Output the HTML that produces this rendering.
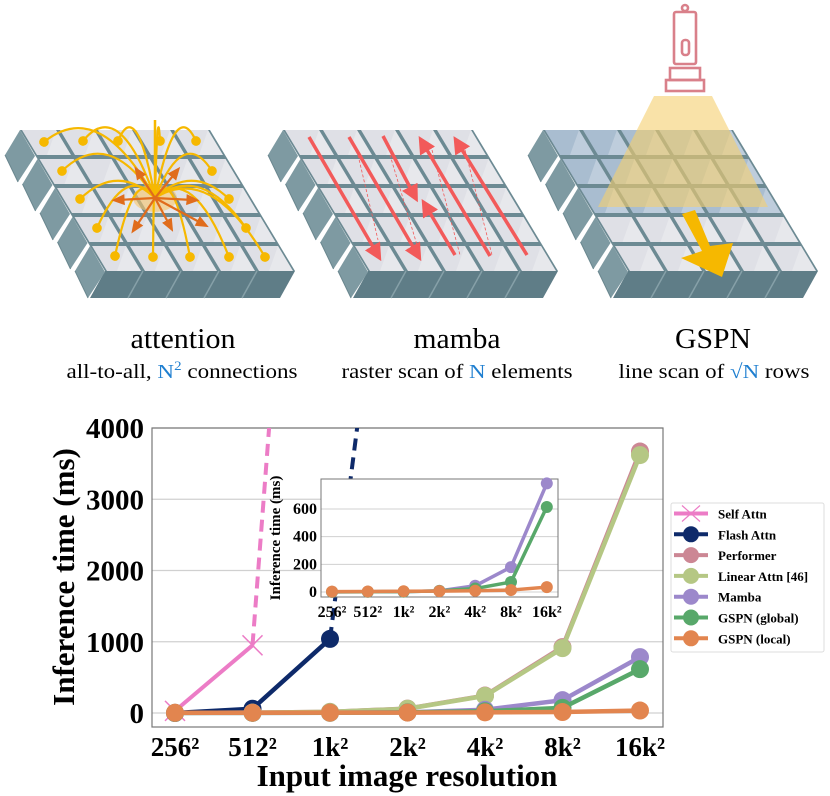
<!DOCTYPE html>
<html><head><meta charset="utf-8">
<style>
html,body{margin:0;padding:0;background:#fff;}
svg{display:block;font-family:"Liberation Serif",serif;}
</style></head>
<body>
<svg id="fig" width="830" height="796" viewBox="0 0 830 796" xmlns="http://www.w3.org/2000/svg">
<defs>
<marker id="ay" markerWidth="6" markerHeight="6" refX="3" refY="3" orient="auto"><circle cx="3" cy="3" r="2.2" fill="#f6b800"/></marker>
<marker id="ao" markerWidth="6" markerHeight="6" refX="3" refY="3" orient="auto"><path d="M0,0.5 L6,3 L0,5.5 z" fill="#e06c1c"/></marker>
<marker id="ar" markerWidth="5" markerHeight="5" refX="2" refY="2.5" orient="auto"><path d="M0,0 L5,2.5 L0,5 z" fill="#f25a5a"/></marker>
</defs>
<g id="grids"></g>
<g id="overlays"></g>

<g text-anchor="middle">
<text x="183" y="348" font-size="28" textLength="105" lengthAdjust="spacingAndGlyphs">attention</text>
<text x="182" y="378" font-size="20" textLength="231" lengthAdjust="spacingAndGlyphs">all-to-all, <tspan fill="#1f7fd0">N<tspan font-size="13" dy="-8">2</tspan></tspan><tspan dy="8"> connections</tspan></text>
<text x="457" y="348" font-size="28" textLength="87" lengthAdjust="spacingAndGlyphs">mamba</text>
<text x="457" y="378" font-size="20" textLength="231" lengthAdjust="spacingAndGlyphs">raster scan of <tspan fill="#1f7fd0">N</tspan> elements</text>
<text x="713" y="348" font-size="28" textLength="76" lengthAdjust="spacingAndGlyphs">GSPN</text>
<text x="714" y="378" font-size="20" textLength="191" lengthAdjust="spacingAndGlyphs">line scan of <tspan fill="#1f7fd0">√N</tspan> rows</text>
</g>

<g id="chart"></g>
</svg>
<script>
// ---- chart data ----
const categories = ["256²","512²","1k²","2k²","4k²","8k²","16k²"];
const yTicks = [0,1000,2000,3000,4000];
const insetYTicks = [0,200,400,600];
const seriesNames = ["Self Attn","Flash Attn","Performer","Linear Attn [46]","Mamba","GSPN (global)","GSPN (local)"];
const selfAttn = [30, 950];
const selfAttnProjected = [950, 15200];
const flashAttn = [0, 60, 1040];
const flashAttnProjected = [1040, 9500];
const performer = [2, 5, 15, 62, 245, 925, 3670];
const linearAttn = [2, 5, 15, 60, 240, 910, 3620];
const mamba = [1, 2, 3, 8, 45, 180, 785];
const gspnGlobal = [1, 2, 3, 8, 25, 72, 615];
const gspnLocal = [3, 4, 5, 6, 9, 14, 35];

const NS="http://www.w3.org/2000/svg";
function mk(tag, attrs, parent){const e=document.createElementNS(NS,tag);for(const k in attrs)e.setAttribute(k,attrs[k]);if(parent)parent.appendChild(e);return e;}

// ---- illustrations ----
const G=document.getElementById('grids');
function drawGrid(ox, oy, name, tintRows){
  const g=mk('g',{},G);
  
  
  const W=38, RH=29, SH=17.5, TH=25, SK=15;
  const bx=ox+4*SH+SK, bry=oy+4*RH+TH, brx=bx+5*W;
  // slab base (gap colour)
  mk('polygon',{points:`${ox},${oy} ${ox+5*W},${oy} ${brx},${bry} ${bx},${bry}`,fill:'#6c8a93'},g);
  // front face (slanted)
  mk('polygon',{points:`${bx},${bry} ${brx},${bry} ${brx-15},${bry+27} ${bx-15},${bry+27}`,fill:'#5f7d87'},g);
  for(let c=1;c<5;c++){const x=bx+c*W;mk('line',{x1:x,y1:bry,x2:x-15,y2:bry+27,stroke:'#86a0a8','stroke-width':1.5},g);}
  for(let r=0;r<5;r++){
    const x0=ox+r*SH, y0=oy+r*RH;
    mk('polygon',{points:`${x0},${y0} ${x0-15},${y0+25} ${x0-2},${y0+52} ${x0+15},${y0+26}`,fill:'#7e9aa2'},g);
    mk('line',{x1:x0-15,y1:y0+25,x2:x0-2,y2:y0+52,stroke:'#6a878f','stroke-width':1},g);
    for(let c=0;c<5;c++){
      const x=x0+c*W+2, y=y0;
      const fill=(tintRows&&r<3)?'#a9bdd0':'#dfe0e6';
      mk('polygon',{points:`${x},${y} ${x+W-4},${y} ${x+W-4+SK},${y+TH} ${x+SK},${y+TH}`,fill:fill},g);
      mk('polygon',{points:`${x+W-4},${y} ${x+W-4+SK},${y+TH} ${x+SK+10},${y+TH}`,fill:'#ffffff','fill-opacity':0.25},g);
    }
  }
}
drawGrid(20,130,'attention-grid',false);
drawGrid(283,130,'mamba-grid',false);
drawGrid(543,130,'gspn-grid',true);

const O=document.getElementById('overlays');
// attention arcs
const cx=155, cy=198;
mk('ellipse',{cx:cx,cy:cy,rx:22,ry:14,fill:'#f8c76a','fill-opacity':0.6},O);
const targets=[[44,142],[83,141],[118,141],[160,141],[196,141],[62,171],[212,171],[80,199],[229,199],[97,228],[246,228],[115,256],[153,257],[190,257],[229,257],[265,257]];
targets.forEach((t,i)=>{
  const mx=(cx+t[0])/2, my=Math.min(cy,t[1])-45+(t[1]>cy?10:0);
  const p=mk('path',{d:`M${cx},${cy} Q${mx},${my} ${t[0]},${t[1]}`,fill:'none',stroke:'#f6b800','stroke-width':2.2,'marker-end':'url(#ay)'},O);
  
  
});
mk('line',{x1:cx,y1:cy,x2:cx,y2:120,stroke:'#f6b800','stroke-width':2.5},O);
[[138,172],[176,172],[118,200],[193,200],[135,228],[170,226],[203,224]].forEach(t=>{
  const l=mk('line',{x1:cx,y1:cy,x2:t[0],y2:t[1],stroke:'#e06c1c','stroke-width':2.2,'marker-end':'url(#ao)'},O);
  
  
});
// mamba scan arrows
[[358,155,378,240],[390,155,417,245],[432,150,460,255],[465,150,492,255]].forEach(d=>{
  mk('line',{x1:d[0],y1:d[1],x2:d[2],y2:d[3],stroke:'#f25a5a','stroke-width':0.8,'stroke-dasharray':'3,2'},O);
});
[[309,137,376,252],[349,137,416,252],[383,136,413,193],[455,255,427,208],[490,256,424,145],[527,255,459,145]].forEach(d=>{
  const l=mk('line',{x1:d[0],y1:d[1],x2:d[2],y2:d[3],stroke:'#f25a5a','stroke-width':3.5,'marker-end':'url(#ar)'},O);
  
  
});
// GSPN flashlight & beam
const fl=mk('g',{fill:'none',stroke:'#d9808a','stroke-width':2.6},O);


mk('rect',{x:674,y:12,width:22,height:52,rx:2},fl);
mk('circle',{cx:685,cy:8,r:3},fl);
mk('rect',{x:682,y:40,width:7,height:15,rx:3},fl);
mk('rect',{x:670,y:68,width:30,height:12},fl);
mk('rect',{x:666,y:80,width:38,height:11},fl);
const beam=mk('polygon',{points:'654,96 712,96 768,207 598,207',fill:'#f5cf6e','fill-opacity':0.6},O);


const arw=mk('polygon',{points:'682,214 695,210 710,246 733,243 722,277 681,258 702,251',fill:'#f6b800'},O);



// ---- main chart ----
const C=document.getElementById('chart');
const L=152,R=663,T=428,B=727;
const xS=i=>175+i*77.5;
const yS=v=>713-v*0.07125;
mk('rect',{x:L,y:T,width:R-L,height:B-T,fill:'#fff'},C);
const clip=mk('clipPath',{id:'mainclip'},C);
mk('rect',{x:L,y:T,width:R-L,height:B-T},clip);
yTicks.forEach(v=>{
  const gl=mk('line',{x1:L,x2:R,y1:yS(v),y2:yS(v),stroke:'#d0d0d0','stroke-width':1.2},C);
  
  
  const t=mk('text',{x:L-8,y:yS(v)+10,'text-anchor':'end','font-size':29,'font-weight':'bold'},C);
  t.textContent=v;
  
  
});
categories.forEach((c,i)=>{
  const t=mk('text',{x:xS(i),y:756,'text-anchor':'middle','font-size':27,'font-weight':'bold'},C);
  t.textContent=c;
  
  
});
mk('rect',{x:L,y:T,width:R-L,height:B-T,fill:'none',stroke:'#777','stroke-width':1.2},C);
const xl=mk('text',{x:407,y:786,'text-anchor':'middle','font-size':31,'font-weight':'bold'},C);
xl.textContent='Input image resolution';


const yl=mk('text',{x:0,y:0,'text-anchor':'middle','font-size':31,'font-weight':'bold',transform:'translate(74,577) rotate(-90)'},C);
yl.textContent='Inference time (ms)';



const colors=['#ec7cc6','#0e2a6a','#cc8794','#b5c784','#9c88cb','#58a86a','#e2854f'];
const plot=mk('g',{'clip-path':'url(#mainclip)'},C);
function series(g,vals,color,xf,yf,lw,r,name,marker){
  const s=mk('g',{},g);
  
  
  mk('polyline',{points:vals.map((v,i)=>xf(i)+','+yf(v)).join(' '),fill:'none',stroke:color,'stroke-width':lw,'stroke-linejoin':'round'},s);
  vals.forEach((v,i)=>{
    if(marker==='x'){
      mk('path',{d:`M${xf(i)-r},${yf(v)-r}L${xf(i)+r},${yf(v)+r}M${xf(i)-r},${yf(v)+r}L${xf(i)+r},${yf(v)-r}`,stroke:color,'stroke-width':1.5},s);
    } else {
      const m=mk('circle',{cx:xf(i),cy:yf(v),r:r,fill:color},s);
      
      
    }
  });
}
function dashed(g,vals,start,color,name){
  const l=mk('line',{x1:xS(start),y1:yS(vals[0]),x2:xS(start+1),y2:yS(vals[1]),stroke:color,'stroke-width':4,'stroke-dasharray':'12,7'},g);
  
  
}
dashed(plot,selfAttnProjected,1,colors[0],'self-attn-projection');
dashed(plot,flashAttnProjected,2,colors[1],'flash-attn-projection');
series(plot,selfAttn,colors[0],xS,yS,4,10,'self-attn-series','x');
series(plot,flashAttn,colors[1],xS,yS,4.5,9,'flash-attn-series');
series(plot,performer,colors[2],xS,yS,4.5,9,'performer-series');
series(plot,linearAttn,colors[3],xS,yS,4.5,9,'linear-attn-series');
series(plot,mamba,colors[4],xS,yS,4.5,9,'mamba-series');
series(plot,gspnGlobal,colors[5],xS,yS,4.5,9,'gspn-global-series');
series(plot,gspnLocal,colors[6],xS,yS,4.5,9,'gspn-local-series');

// ---- inset ----
const I=mk('g',{},C);


const iL=321,iR=558,iT=479,iB=597;
const xi=i=>332+i*35.8;
const yi=v=>592-v*0.1383;
mk('rect',{x:iL,y:iT,width:iR-iL,height:iB-iT,fill:'#fff'},I);
insetYTicks.forEach(v=>{
  mk('line',{x1:iL,x2:iR,y1:yi(v),y2:yi(v),stroke:'#d0d0d0','stroke-width':1},I);
  const t=mk('text',{x:iL-4,y:yi(v)+5,'text-anchor':'end','font-size':16,'font-weight':'bold'},I);
  t.textContent=v;
  
  
});
categories.forEach((c,i)=>{
  const t=mk('text',{x:xi(i),y:617,'text-anchor':'middle','font-size':16,'font-weight':'bold'},I);
  t.textContent=c;
  
  
});
const iyl=mk('text',{x:0,y:0,'text-anchor':'middle','font-size':15,'font-weight':'bold',transform:'translate(280,538) rotate(-90)'},I);
iyl.textContent='Inference time (ms)';


mk('rect',{x:iL,y:iT,width:iR-iL,height:iB-iT,fill:'none',stroke:'#777','stroke-width':1},I);
series(I,mamba,colors[4],xi,yi,3.5,6,'inset-mamba-series');
series(I,gspnGlobal,colors[5],xi,yi,3.5,6,'inset-gspn-global-series');
series(I,gspnLocal,colors[6],xi,yi,3.5,6,'inset-gspn-local-series');

// ---- legend ----
const Lg=mk('g',{},C);


mk('rect',{x:671,y:503,width:153,height:149,rx:2,fill:'#fff',stroke:'#ddd','stroke-width':1},Lg);
seriesNames.forEach((n,i)=>{
  const y=513.5+i*20.8;
  const e=mk('g',{},Lg);
  
  
  mk('line',{x1:674,x2:708,y1:y,y2:y,stroke:colors[i],'stroke-width':4},e);
  if(i===0){mk('path',{d:`M682,${y-8}L700,${y+8}M682,${y+8}L700,${y-8}`,stroke:colors[0],'stroke-width':1.2},e);}
  else mk('circle',{cx:691,cy:y,r:8,fill:colors[i]},e);
  const t=mk('text',{x:718,y:y+5,'font-size':13,'font-weight':'bold'},e);
  t.textContent=n;
});
</script>
</body></html>
